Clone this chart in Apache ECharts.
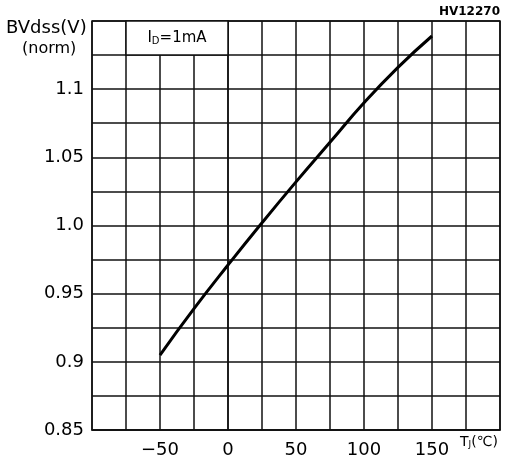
<!DOCTYPE html>
<html>
<head>
<meta charset="utf-8">
<script src="https://cdn.jsdelivr.net/npm/echarts@6/dist/echarts.min.js"></script>
<style>html,body{margin:0;padding:0;background:#fff}#c{width:510px;height:464px}</style>
</head>
<body>
<div id="c"></div>
<script>
// Data
const tempC = [-50, -25, 0, 25, 50, 75, 100, 125, 150];
const bvdssNorm = [0.905, 0.939, 0.971, 1.002, 1.032, 1.061, 1.090, 1.116, 1.139];
const xTickValues = [-50, 0, 50, 100, 150];
const xTickLabels = ['\u221250', '0', '50', '100', '150'];
const yTickValues = [0.85, 0.9, 0.95, 1.0, 1.05, 1.1];
const yTickLabels = ['0.85', '0.9', '0.95', '1.0', '1.05', '1.1'];
const yAxisTitle = 'BVdss(V)';
const yAxisSub = '(norm)';
const partNo = 'HV12270';
const condition = ['I', 'D', '=1mA'];
const xAxisTitle = ['T', 'J', '(\u2103)'];

function pick(vals, labels, v) {
  for (let i = 0; i < vals.length; i++) if (Math.abs(vals[i] - v) < 1e-6) return labels[i];
  return '';
}

const font = 'DejaVu Sans';
const lineColor = '#111';
const chart = echarts.init(document.getElementById('c'), null, {renderer: 'canvas'});
chart.setOption({
  animation: false,
  backgroundColor: '#fff',
  grid: {left: 92, right: 10, top: 21, bottom: 34, show: true, borderColor: lineColor, borderWidth: 1.5},
  xAxis: {
    type: 'value', min: -100, max: 200, interval: 25,
    axisLine: {show: true, lineStyle: {color: lineColor, width: 1.5}},
    axisTick: {show: false},
    splitLine: {show: true, lineStyle: {color: lineColor, width: 1.5}},
    axisLabel: {
      margin: 11, color: '#000', fontFamily: font, fontSize: 18,
      showMinLabel: true, showMaxLabel: true,
      formatter: v => pick(xTickValues, xTickLabels, v)
    }
  },
  yAxis: {
    type: 'value', min: 0.85, max: 1.15, interval: 0.025,
    axisLine: {show: true, lineStyle: {color: lineColor, width: 1.5}},
    axisTick: {show: false},
    splitLine: {show: true, lineStyle: {color: lineColor, width: 1.5}},
    axisLabel: {
      margin: 8, color: '#000', fontFamily: font, fontSize: 18,
      formatter: v => pick(yTickValues, yTickLabels, v)
    }
  },
  series: [{
    type: 'line',
    data: tempC.map((t, i) => [t, bvdssNorm[i]]),
    showSymbol: false,
    smooth: true,
    lineStyle: {color: '#000', width: 3},
    z: 5,
    markArea: {
      silent: true,
      itemStyle: {color: '#fff', borderColor: lineColor, borderWidth: 1.5},
      label: {
        show: true, position: 'inside', color: '#000',
        formatter: '{a|' + condition[0] + '}{s|' + condition[1] + '}{a|' + condition[2] + '}',
        rich: {
          a: {fontFamily: font, fontSize: 15, color: '#000'},
          s: {fontFamily: font, fontSize: 10, color: '#000', verticalAlign: 'bottom', padding: [6, 0, 0, 0]}
        }
      },
      data: [[{xAxis: -75, yAxis: 1.125}, {xAxis: 0, yAxis: 1.15}]]
    }
  }],
  graphic: [
    {type: 'text', left: 6, top: 19, style: {text: yAxisTitle, font: '18px "DejaVu Sans"', fill: '#000'}},
    {type: 'text', left: 22, top: 41, style: {text: yAxisSub, font: '16px "DejaVu Sans"', fill: '#000'}},
    {type: 'text', right: 10, top: 6, style: {text: partNo, font: 'bold 12px "DejaVu Sans"', fill: '#000'}},
    {type: 'text', left: 460, top: 435, style: {
      text: '{a|' + xAxisTitle[0] + '}{s|' + xAxisTitle[1] + '}{a|' + xAxisTitle[2] + '}',
      rich: {
        a: {fontFamily: font, fontSize: 14, color: '#000'},
        s: {fontFamily: font, fontSize: 9, color: '#000', padding: [6, 0, 0, 0]}
      }
    }}
  ]
});
</script>
</body>
</html>
